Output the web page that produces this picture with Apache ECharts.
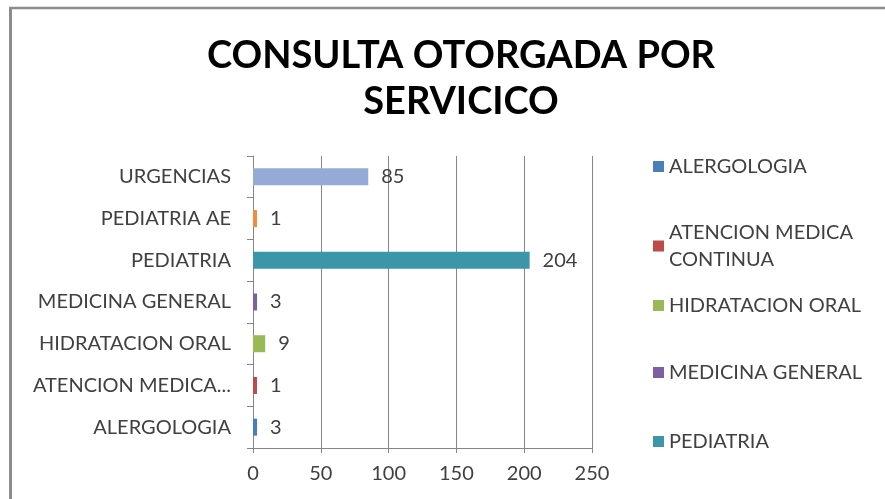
<!DOCTYPE html>
<html>
<head>
<meta charset="utf-8">
<script src="https://cdn.jsdelivr.net/npm/echarts@6/dist/echarts.min.js"></script>
<style>
  html, body { margin: 0; padding: 0; background: #fff; }
  #chart { width: 885px; height: 499px; }
</style>
</head>
<body>
<div id="chart"></div>
<script>
// servicios, de abajo hacia arriba como en el eje
const categories = ['ALERGOLOGIA', 'ATENCION MEDICA CONTINUA', 'HIDRATACION ORAL', 'MEDICINA GENERAL', 'PEDIATRIA', 'PEDIATRIA AE', 'URGENCIAS']
const values = [3, 1, 9, 3, 204, 1, 85]
const colors = ['#4a7ebb', '#be4b48', '#98b954', '#7d60a0', '#3c96aa', '#f38b3c', '#95abd6']
const xTicks = [0, 50, 100, 150, 200, 250]

// en la leyenda solo caben los primeros cinco
const legendNames = categories.slice(0, 5)
const legendTops = [148, 214, 287, 354, 423]

const font = 'Lato, "Open Sans", sans-serif'

let chart = echarts.init(document.getElementById('chart'))

let series = categories.map((name, i) => ({
  name: name,
  type: 'bar',
  stack: 'total',
  barWidth: 17,
  barMinHeight: 4,
  itemStyle: { color: colors[i] },
  label: {
    show: true,
    position: 'right',
    distance: 13,
    color: '#404040',
    fontSize: 20,
    fontFamily: font
  },
  data: categories.map((c, j) => (j === i ? values[i] : '-'))
}))

let option = {
  animation: false,
  color: colors,
  title: {
    text: 'CONSULTA OTORGADA POR\nSERVICICO',
    left: 456,
    textAlign: 'center',
    top: 28,
    textStyle: {
      fontFamily: font,
      fontWeight: 'bold',
      fontSize: 38,
      lineHeight: 46,
      color: '#000'
    }
  },
  graphic: [
    {
      type: 'line',
      shape: { x1: 9, y1: 8, x2: 885, y2: 8 },
      style: { stroke: '#8c8c8c', lineWidth: 2.5 },
      silent: true
    },
    {
      type: 'line',
      shape: { x1: 10.5, y1: 7, x2: 10.5, y2: 499 },
      style: { stroke: '#8c8c8c', lineWidth: 3 },
      silent: true
    }
  ],
  legend: legendNames.map((n, i) => ({
    data: [n],
    left: 648,
    top: legendTops[i],
    itemWidth: 11,
    itemHeight: 11,
    icon: 'rect',
    itemGap: 0,
    textStyle: {
      fontFamily: font,
      fontSize: 20,
      color: '#404040',
      lineHeight: 27
    },
    formatter: name => name === 'ATENCION MEDICA CONTINUA' ? 'ATENCION MEDICA\nCONTINUA' : name
  })),
  grid: {
    left: 253,
    right: 293,
    top: 156,
    bottom: 51,
    containLabel: false
  },
  xAxis: {
    type: 'value',
    min: xTicks[0],
    max: xTicks[xTicks.length - 1],
    interval: 50,
    axisLine: { show: true, lineStyle: { color: '#868686' } },
    axisTick: { show: true, length: 5, lineStyle: { color: '#868686' } },
    splitLine: { show: true, lineStyle: { color: '#868686' } },
    axisLabel: {
      margin: 16,
      color: '#404040',
      fontSize: 20,
      fontFamily: font
    }
  },
  yAxis: {
    type: 'category',
    data: categories,
    axisLine: { show: true, lineStyle: { color: '#868686' } },
    axisTick: { show: true, length: 6, lineStyle: { color: '#868686' } },
    axisLabel: {
      margin: 22,
      color: '#404040',
      fontSize: 20,
      fontFamily: font,
      formatter: v => v.length > 20 ? v.slice(0, 15) + '...' : v
    }
  },
  series: series
}

chart.setOption(option, true)
</script>
</body>
</html>
